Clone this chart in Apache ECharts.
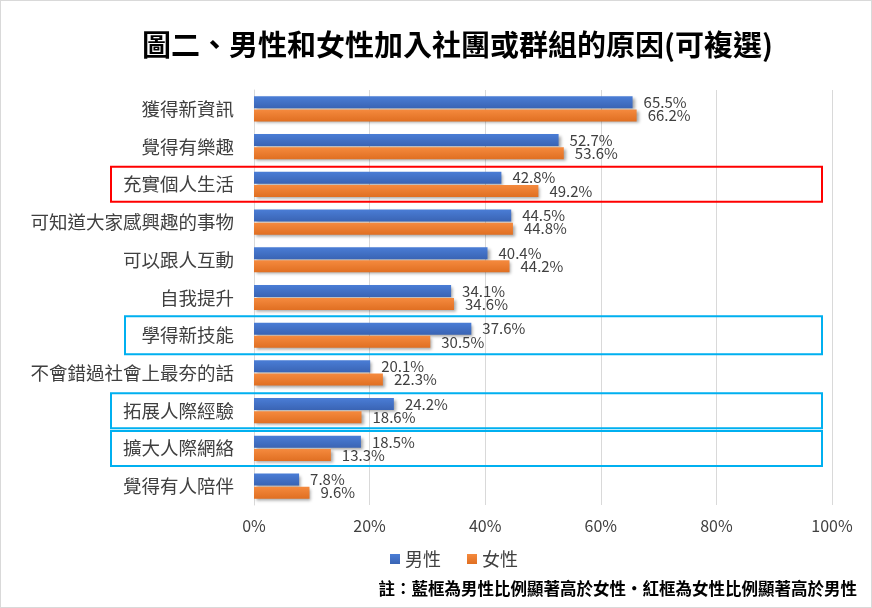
<!DOCTYPE html>
<html>
<head>
<meta charset="utf-8">
<script src="https://cdn.jsdelivr.net/npm/echarts@6/dist/echarts.min.js"></script>
<style>
  html, body { margin: 0; padding: 0; background: #fff; }
  #main { width: 872px; height: 608px; box-sizing: border-box; border: 1px solid #d9d9d9; }
</style>
</head>
<body>
<div id="main"></div>
<script>
// 資料
const categories = ['獲得新資訊', '覺得有樂趣', '充實個人生活', '可知道大家感興趣的事物', '可以跟人互動', '自我提升',
  '學得新技能', '不會錯過社會上最夯的話', '拓展人際經驗', '擴大人際網絡', '覺得有人陪伴'];
const male = [65.5, 52.7, 42.8, 44.5, 40.4, 34.1, 37.6, 20.1, 24.2, 18.5, 7.8];
const female = [66.2, 53.6, 49.2, 44.8, 44.2, 34.6, 30.5, 22.3, 18.6, 13.3, 9.6];
const xTicks = [0, 20, 40, 60, 80, 100];
const redBoxes = ['充實個人生活'];
const blueBoxes = ['學得新技能', '拓展人際經驗', '擴大人際網絡'];

const font = '"Noto Sans CJK TC", "Noto Sans", sans-serif';

function barStyle(c1, c2) {
  return {
    color: new echarts.graphic.LinearGradient(0, 0, 0, 1, [
      { offset: 0, color: c1 }, { offset: 1, color: c2 }
    ]),
    shadowColor: 'rgba(0,0,0,0.35)',
    shadowBlur: 3,
    shadowOffsetX: 2,
    shadowOffsetY: 2
  };
}

let myChart = echarts.init(document.getElementById('main'));
let option = {
  backgroundColor: '#fff',
  textStyle: { fontFamily: font },
  title: {
    text: '圖二、男性和女性加入社團或群組的原因(可複選)',
    left: 136,
    top: 24,
    textStyle: { fontSize: 29, fontWeight: 'bold', color: '#000', fontFamily: font }
  },
  legend: {
    bottom: 34,
    left: 384,
    itemWidth: 10,
    itemHeight: 10,
    itemGap: 26,
    icon: 'rect',
    textStyle: { fontSize: 18, color: '#404040', fontFamily: font },
    data: ['男性', '女性']
  },
  grid: { left: 253, right: 39, top: 89, bottom: 102, containLabel: false },
  xAxis: {
    type: 'value',
    min: 0,
    max: 100,
    interval: 20,
    axisLine: { show: false },
    axisTick: { show: false },
    splitLine: { lineStyle: { color: '#d9d9d9' } },
    axisLabel: {
      margin: 13,
      fontSize: 16,
      color: '#404040',
      formatter: v => xTicks.includes(v) ? v + '%' : ''
    }
  },
  yAxis: {
    type: 'category',
    inverse: true,
    data: categories,
    axisLine: { lineStyle: { color: '#d9d9d9' } },
    axisTick: { show: false },
    axisLabel: { margin: 20, fontSize: 18.5, color: '#404040' }
  },
  series: [
    {
      name: '男性',
      type: 'bar',
      data: male,
      barWidth: 12,
      barGap: '10%',
      itemStyle: barStyle('#4a7dd6', '#3a64b4'),
      label: {
        show: true, position: 'right', distance: 11, fontSize: 15, color: '#404040',
        formatter: p => p.value.toFixed(1) + '%'
      }
    },
    {
      name: '女性',
      type: 'bar',
      data: female,
      barWidth: 12,
      itemStyle: barStyle('#f58a3e', '#e06f22'),
      label: {
        show: true, position: 'right', distance: 11, fontSize: 15, color: '#404040',
        formatter: p => p.value.toFixed(1) + '%'
      }
    }
  ],
  graphic: [
    {
      type: 'text',
      right: 14,
      bottom: 10,
      style: {
        text: '註：藍框為男性比例顯著高於女性・紅框為女性比例顯著高於男性',
        font: 'bold 16.5px ' + font,
        fill: '#000'
      }
    }
  ]
};
myChart.setOption(option);

// 標註框
function boxes(list, color, left) {
  return list.map(name => {
    const y = myChart.convertToPixel({ yAxisIndex: 0 }, name);
    const wide = name === '學得新技能';
    const l = wide ? 124 : left;
    const h = wide ? 38 : 35;
    return {
      type: 'rect',
      shape: { x: l, y: y - h / 2, width: 821 - l, height: h },
      style: { fill: 'none', stroke: color, lineWidth: 2 },
      z: 100
    };
  });
}
const extra = []
  .concat(boxes(redBoxes, '#ff0000', 110))
  .concat(boxes(blueBoxes, '#00b0f0', 110));
myChart.setOption({ graphic: option.graphic.concat(extra) });

window.addEventListener('resize', function () {
  myChart.resize();
});
</script>
</body>
</html>
